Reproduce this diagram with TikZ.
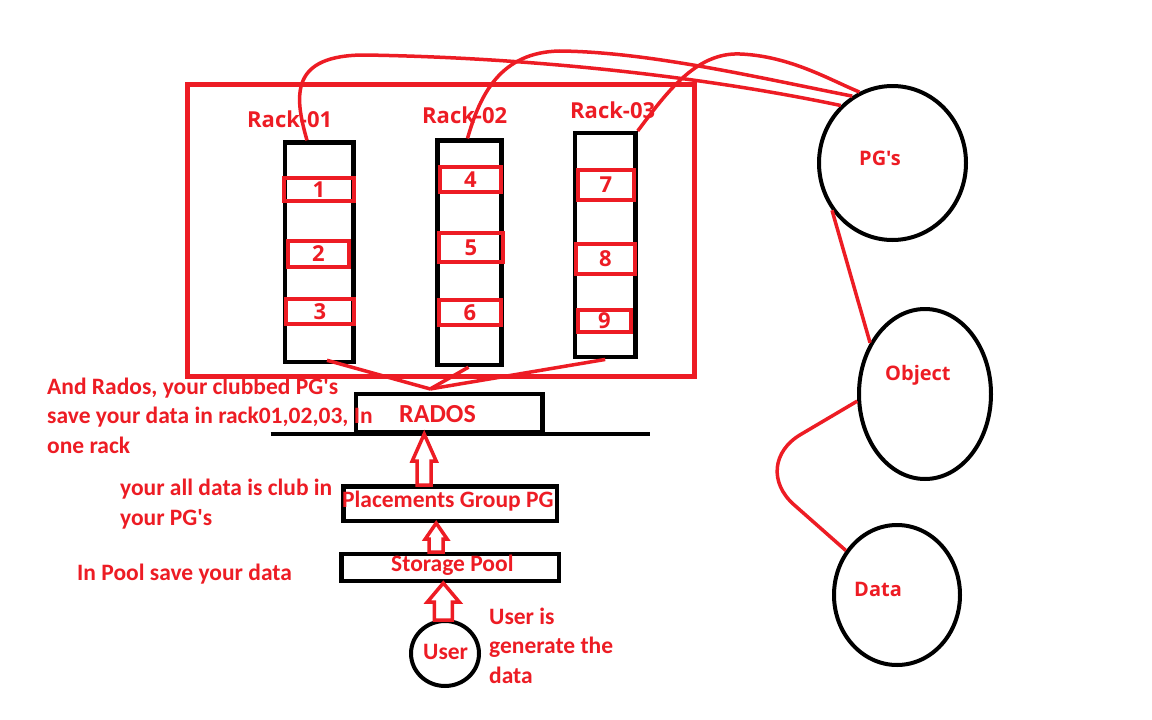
\documentclass[tikz,border=0pt]{standalone}
\usepackage{fontspec}
\setmainfont{Carlito}[Ligatures=TeXOff]
\newfontfamily\opensans{Open Sans}
\usetikzlibrary{shapes.geometric}
\definecolor{paintred}{HTML}{ED1C24}

\begin{document}
\begin{tikzpicture}[x=1pt, y=-1pt,
	rack/.style={draw=black, line width=4.5pt, inner sep=0pt},
	slot/.style={draw=paintred, line width=4.5pt, inner sep=0pt, text=paintred,
		font=\opensans\bfseries\fontsize{22}{26}\selectfont},
	stage/.style={draw=black, line width=4.5pt, inner sep=0pt},
	blob/.style={ellipse, draw=black, line width=4pt, inner sep=0pt},
	note/.style={text=paintred, font=\bfseries\fontsize{23.5}{29.5}\selectfont,
		align=left, inner sep=0pt, anchor=base west},
	tag/.style={text=paintred, font=\opensans\bfseries\fontsize{22}{26}\selectfont,
		inner sep=0pt, anchor=base west},
	wire/.style={draw=paintred, line width=3.5pt},
	hollow/.style={draw=paintred, line width=3.5pt, line join=miter}]

	\fill[white] (0,0) rectangle (1152,720);
	\useasboundingbox (0,0) rectangle (1152,720);

	\draw [wire, line width=5pt] (187.5,84.8) rectangle (694.2,376.8);

	\node [rack, minimum width=68.5, minimum height=219.5] (rack1) at (319,252.3) {};
	\node [rack, minimum width=63.6, minimum height=224.3] (rack2) at (469.5,252.8) {};
	\node [rack, minimum width=60.5, minimum height=224] (rack3) at (605.2,245.2) {};

	\node [tag] (name1) at (247,127) {Rack-01};
	\node [tag] (name2) at (422,123) {Rack-02};
	\node [tag] (name3) at (570,118) {Rack-03};

	\node [slot, minimum width=70, minimum height=23] (s1) at (319,189.5) {1};
	\node [slot, minimum width=61, minimum height=26] (s2) at (318.5,254) {2};
	\node [slot, minimum width=68, minimum height=25] (s3) at (320,311.5) {3};
	\node [slot, minimum width=61, minimum height=25] (s4) at (470.5,179.5) {4};
	\node [slot, minimum width=64, minimum height=29] (s5) at (471,247.5) {5};
	\node [slot, minimum width=62, minimum height=25] (s6) at (470,312.5) {6};
	\node [slot, minimum width=56, minimum height=30] (s7) at (606,185) {7};
	\node [slot, minimum width=59, minimum height=30] (s8) at (605.5,259) {8};
	\node [slot, minimum width=53, minimum height=22] (s9) at (604.5,321) {9};

	\node [stage, minimum width=186.7, minimum height=37.6] (rados) at (449.2,413) {};
	\node [stage, minimum width=213.3, minimum height=34.3] (pg) at (450.2,503.7) {};
	\node [stage, minimum width=217.7, minimum height=26.6] (pool) at (450.3,567.5) {};
	\draw [line width=3.5pt] ([xshift=-83]rados.south west) -- ([xshift=105]rados.south east);

	\node [note, font=\bfseries\fontsize{26}{30}\selectfont] (radostext) at (399,422) {RADOS};
	\node [note] (pgtext) at (342,507) {Placements Group PG};
	\node [note] (pooltext) at (391,571) {Storage Pool};

	\node [blob, minimum width=68, minimum height=65] (user) at (445,653.5) {};
	\node [note] (usertext) at (423,659) {User};

	\node [blob, minimum width=147, minimum height=154] (pgs) at (892.5,163) {};
	\node [blob, minimum width=132, minimum height=170] (obj) at (925,394) {};
	\node [blob, minimum width=126, minimum height=140] (data) at (897,595) {};
	\node [tag, font=\opensans\bfseries\fontsize{20}{24}\selectfont] (pgslabel) at (859,165) {PG's};
	\node [tag, font=\opensans\bfseries\fontsize{20}{24}\selectfont] (objlabel) at (885,380) {Object};
	\node [tag, font=\opensans\bfseries\fontsize{20}{24}\selectfont] (datalabel) at (854,596) {Data};

	\node [note] (ragosnote) at (47,453) {And Rados, your clubbed PG's\\save your data in rack01,02,03, In\\one rack};
	\node [note] (clubnote) at (120,525) {your all data is club in\\your PG's};
	\node [note] (poolnote) at (77,580) {In Pool save your data};
	\node [note] (usernote) at (489,683) {User is\\generate the\\data};

	\draw [wire] ([xshift=-12]rack1.north) .. controls (294,95) and (290,55) .. (365,55)
		.. controls (550,58) and (720,80) .. (pgs.132);
	\draw [wire] ([xshift=-2]rack2.north) .. controls (480,95) and (500,52) .. (560,51)
		.. controls (650,52) and (760,78) .. (pgs.121);
	\draw [wire] (rack3.north east) .. controls (665,95) and (695,52) .. (740,54)
		.. controls (790,56) and (830,80) .. (pgs.115);

	\draw [wire] (pgs.218) -- (obj.137);
	\draw [wire, rounded corners=60pt] (obj.186) -- (749,465) -- (data.139);

	\coordinate (hub) at ([xshift=-19,yshift=3]rados.north);
	\draw [wire] ([xshift=8,yshift=4]rack1.south) -- (hub);
	\draw [wire] ([xshift=-1]rack2.south) -- (hub);
	\draw [wire] (rack3.south) -- (hub);

	\draw [hollow] ([xshift=-25]rados.south) -- ++(12,27) -- ++(-5,0) -- ++(0,24)
		-- ++(-14,0) -- ++(0,-24) -- ++(-5,0) -- cycle;
	\draw [hollow] ([xshift=-14]pg.south) -- ++(11,16) -- ++(-4,0) -- ++(0,13)
		-- ++(-14,0) -- ++(0,-13) -- ++(-4,0) -- cycle;
	\draw [hollow] ([xshift=-7]pool.south) -- ++(16,19) -- ++(-7,0) -- ++(0,18)
		-- ++(-18,0) -- ++(0,-18) -- ++(-7,0) -- cycle;
\end{tikzpicture}
\end{document}
